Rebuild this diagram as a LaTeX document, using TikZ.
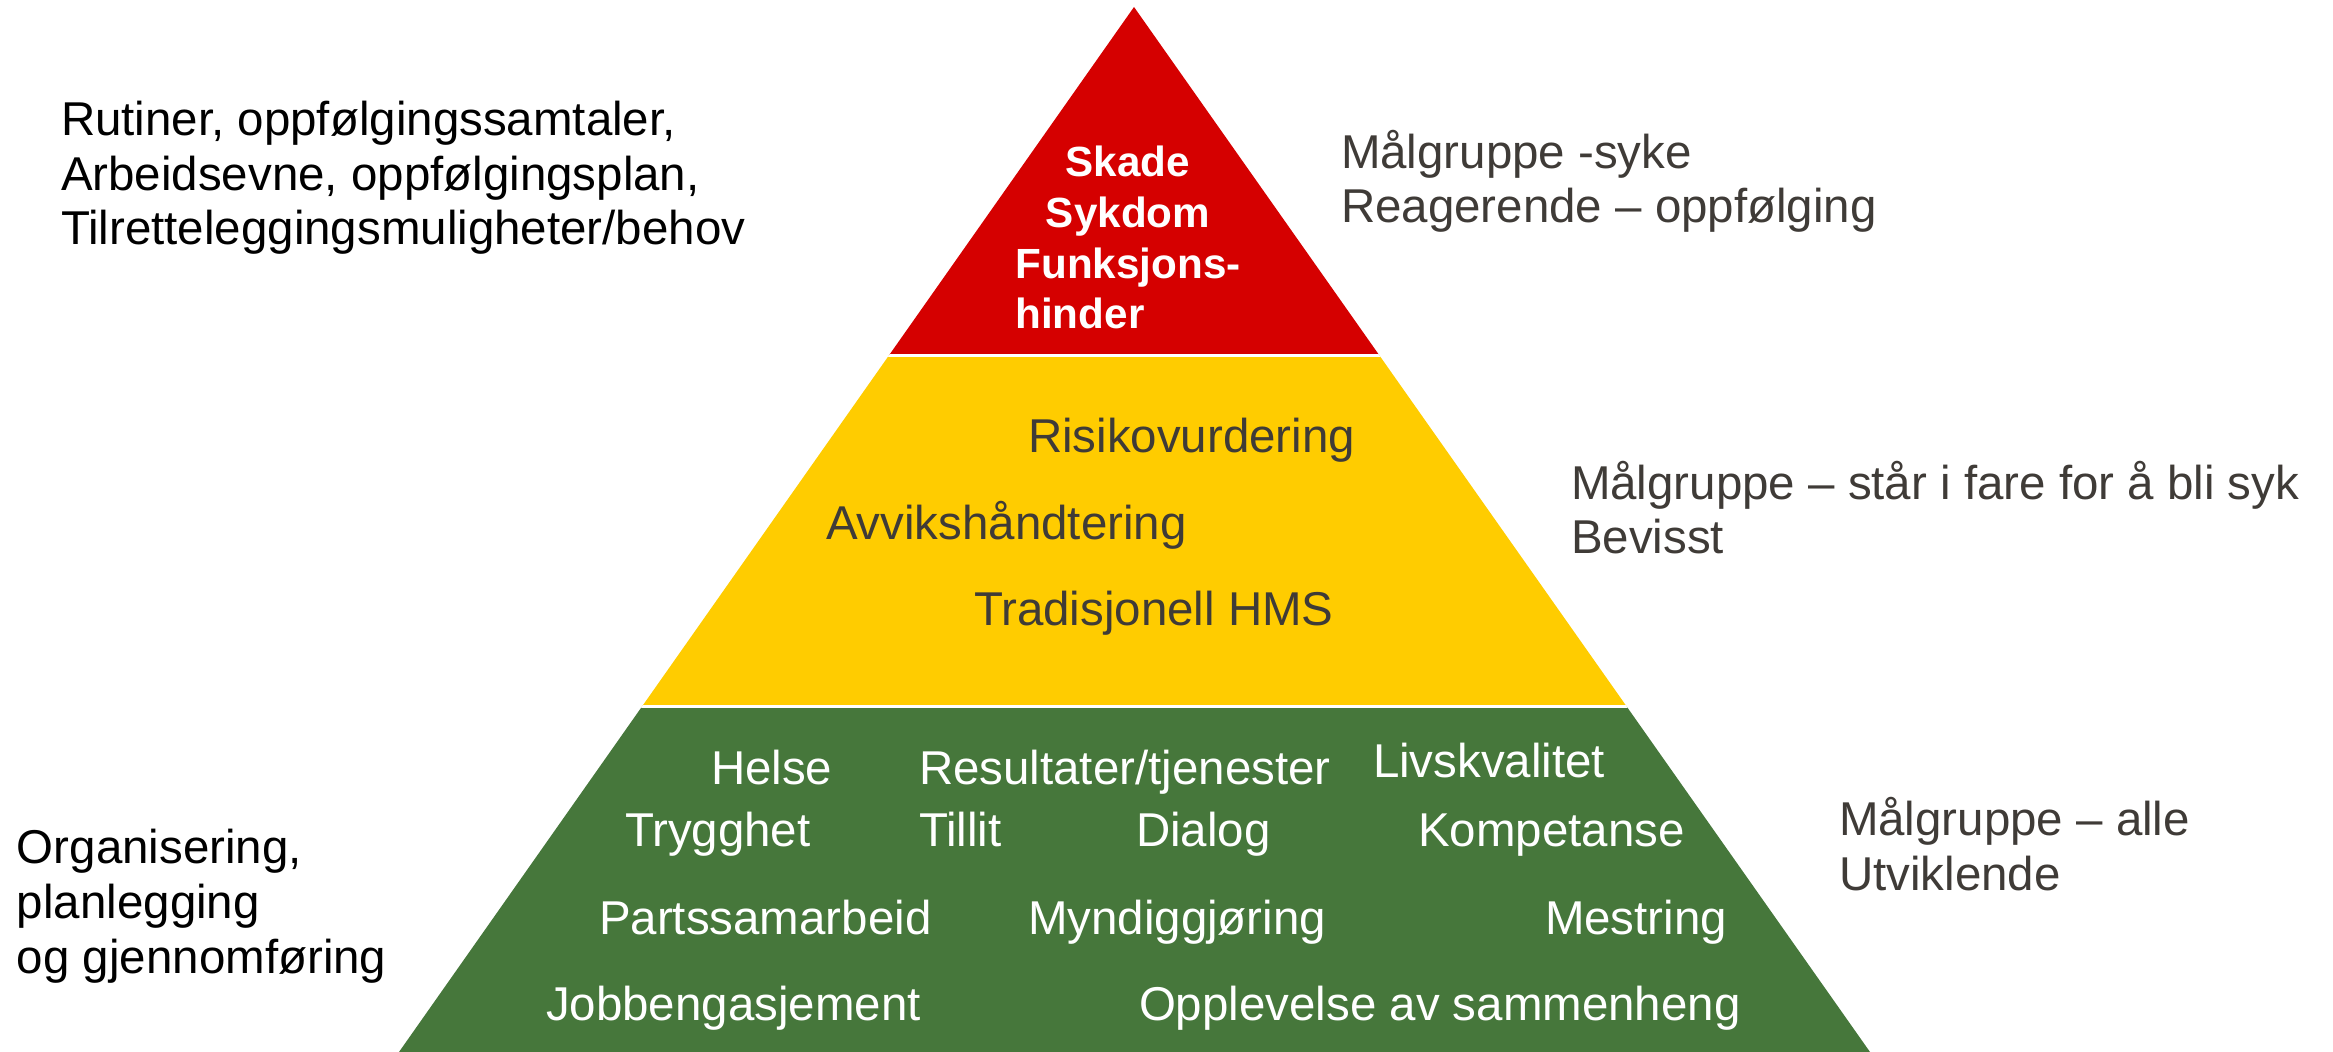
\documentclass[tikz,border=0pt]{standalone}
\usepackage{fontspec}
\setmainfont{Liberation Sans}
\usetikzlibrary{positioning}
\definecolor{TopRed}{RGB}{213, 0, 0}
\definecolor{MidYellow}{RGB}{255, 204, 0}
\definecolor{BaseGreen}{RGB}{70, 119, 59}
\definecolor{NoteGray}{RGB}{63, 59, 55}

\begin{document}
\begin{tikzpicture}[x=0.01cm, y=-0.01cm,
    every node/.style={inner sep=0pt, outer sep=0pt},
    bigtext/.style={font=\fontsize{13.5}{15.5}\selectfont, anchor=base west},
    sidenote/.style={bigtext, align=left},
    greentext/.style={bigtext, text=white},
    yellowtext/.style={bigtext, text=NoteGray}]
    % Fixed frame, same proportions as the slide
    \path[use as bounding box] (0,0) rectangle (2333,1052);

    % Pyramid: three bands clipped to one triangle
    \begin{scope}
        \clip (1134,7) -- (1870,1052) -- (399,1052) -- cycle;
        \fill[TopRed] (380,0) rectangle (1900,355.5);
        \fill[MidYellow] (380,355.5) rectangle (1900,706.5);
        \fill[BaseGreen] (380,706.5) rectangle (1900,1060);
        \draw[white, line width=0.85pt] (380,355.5) -- (1900,355.5);
        \draw[white, line width=0.85pt] (380,706.5) -- (1900,706.5);
    \end{scope}

    % Top band (multi-line nodes sit on their last baseline)
    \node[font=\bfseries\fontsize{12}{14.5}\selectfont, text=white,
          align=center, anchor=base] (skade) at (1128,329)
        {Skade\\Sykdom\\Funksjons-\\\rlap{hinder}\phantom{Funksjons-}};

    % Middle band
    \node[yellowtext] (risiko) at (1028,453) {Risikovurdering};
    \node[yellowtext] (avvik) at (826,540) {Avvikshåndtering};
    \node[yellowtext] (hms) at (974,625) {Tradisjonell HMS};

    % Bottom band
    \node[greentext] (helse) at (711,784) {Helse};
    \node[greentext] (resultater) at (919,784) {Resultater/tjenester};
    \node[greentext] (livskvalitet) at (1373,777) {Livskvalitet};
    \node[greentext] (trygghet) at (625,846) {Trygghet};
    \node[greentext] (tillit) at (919,846) {Tillit};
    \node[greentext] (dialog) at (1136,846) {Dialog};
    \node[greentext] (kompetanse) at (1418,846) {Kompetanse};
    \node[greentext] (parts) at (599,934) {Partssamarbeid};
    \node[greentext] (myndig) at (1028,934) {Myndiggjøring};
    \node[greentext] (mestring) at (1545,934) {Mestring};
    \node[greentext] (jobb) at (546,1020) {Jobbengasjement};
    \node[greentext] (opplevelse) at (1139,1020) {Opplevelse av sammenheng};

    % Notes on the left
    \node[sidenote] (rutiner) at (61,245)
        {Rutiner, oppfølgingssamtaler,\\Arbeidsevne, oppfølgingsplan,\\Tilretteleggingsmuligheter/behov};
    \node[sidenote] (organisering) at (17,973)
        {Organisering,\\planlegging\\og gjennomføring};

    % Target groups on the right
    \node[sidenote, text=NoteGray] (malsyke) at (1341,223)
        {Målgruppe -syke\\Reagerende – oppfølging};
    \node[sidenote, text=NoteGray] (malfare) at (1571,554)
        {Målgruppe – står i fare for å bli syk\\Bevisst};
    \node[sidenote, text=NoteGray] (malalle) at (1839,890)
        {Målgruppe – alle\\Utviklende};
\end{tikzpicture}
\end{document}
